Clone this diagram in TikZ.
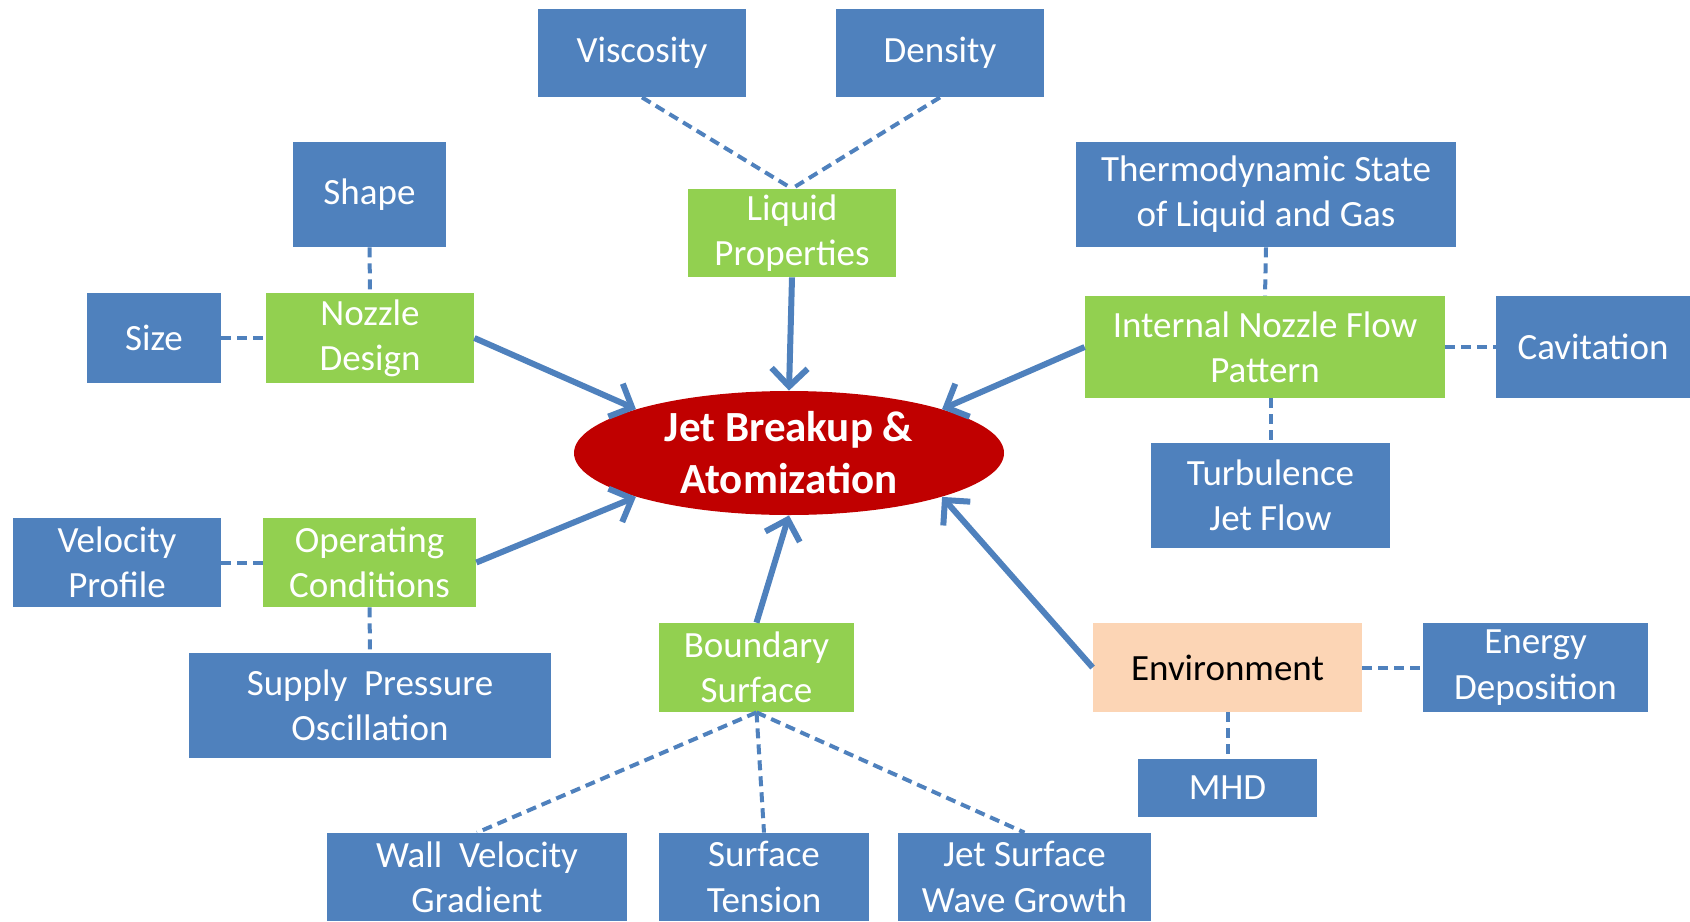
\documentclass[tikz,border=0pt]{standalone}
\usepackage{fontspec}
\setmainfont{Carlito}
\usepackage{xcolor}
\usepackage{tikz}
\usetikzlibrary{shapes.geometric,arrows.meta}

\definecolor{boxblue}{HTML}{4F81BD}
\definecolor{boxgreen}{HTML}{92D050}
\definecolor{boxpeach}{HTML}{FCD5B5}
\definecolor{jetred}{HTML}{C00000}

\begin{document}
\begin{tikzpicture}[
  x=0.5pt, y=-0.5pt,
  every node/.style={rectangle, inner sep=0pt, align=center,
    font=\fontsize{18.5}{22.6}\selectfont},
  factor/.style={fill=boxblue, text=white},
  group/.style={fill=boxgreen, text=white},
  env/.style={fill=boxpeach, text=black},
  link/.style={boxblue, line width=2pt, dash pattern=on 5pt off 3pt},
  push/.style={boxblue, line width=3pt,
    -{Straight Barb[length=9pt, width=18pt, line width=3pt]}}
]
  \clip (0,0) rectangle (1690,921);
  \node[ellipse, fill=jetred, text=white, minimum width=215pt, minimum height=62pt,
    font=\bfseries\fontsize{21.5}{26}\selectfont] (jet) at (789,453) {Jet Breakup \&\\Atomization};

  \node[group, minimum width=104pt, minimum height=44pt] (liquid) at (792,233) {Liquid\\Properties};
  \node[factor, minimum width=104pt, minimum height=44pt] (visc) at (642,53) {Viscosity};
  \node[factor, minimum width=104pt, minimum height=44pt] (dens) at (940,53) {Density};

  \node[group, minimum width=104pt, minimum height=45pt] (nozzle) at (370,338) {Nozzle\\Design};
  \node[factor, minimum width=76.5pt, minimum height=52.5pt] (shape) at (369.5,194.5) {Shape};
  \node[factor, minimum width=67pt, minimum height=45pt] (size) at (154,338) {Size};

  \node[group, minimum width=180pt, minimum height=51pt] (internal) at (1265,347) {Internal Nozzle Flow\\Pattern};
  \node[factor, minimum width=190pt, minimum height=52.5pt] (thermo) at (1266,194.5) {Thermodynamic State\\of Liquid and Gas};
  \node[factor, minimum width=97pt, minimum height=51pt] (cavit) at (1593,347) {Cavitation};
  \node[factor, minimum width=119.5pt, minimum height=52.5pt] (turb) at (1270.5,495.5) {Turbulence\\Jet Flow};

  \node[group, minimum width=106.5pt, minimum height=44.5pt] (operating) at (369.5,562.5) {Operating\\Conditions};
  \node[factor, minimum width=104pt, minimum height=44.5pt] (velprof) at (117,562.5) {Velocity\\Profile};
  \node[factor, minimum width=181pt, minimum height=52.5pt] (supply) at (370,705.5) {Supply\ \ Pressure\\Oscillation};

  \node[group, minimum width=97.5pt, minimum height=44.5pt] (boundary) at (756.5,667.5) {Boundary\\Surface};
  \node[factor, minimum width=150pt, minimum height=44pt] (wall) at (477,877) {Wall\ \ Velocity\\Gradient};
  \node[factor, minimum width=105pt, minimum height=44pt] (surftens) at (764,877) {Surface\\Tension};
  \node[factor, minimum width=126.5pt, minimum height=44pt] (jetsurf) at (1024.5,877) {Jet Surface\\Wave Growth};

  \node[env, minimum width=134.5pt, minimum height=44.5pt] (environ) at (1227.5,667.5) {Environment};
  \node[factor, minimum width=112.5pt, minimum height=44.5pt] (energy) at (1535.5,667.5) {Energy\\Deposition};
  \node[factor, minimum width=89.5pt, minimum height=29pt] (mhd) at (1227.5,788) {MHD};

  \draw[link] (visc.south) -- (liquid.north);
  \draw[link] (dens.south) -- (liquid.north);
  \draw[link] (shape.south) -- (nozzle.north);
  \draw[link] (size.east) -- (nozzle.west);
  \draw[link] (thermo.south) -- (internal.north);
  \draw[link] (internal.east) -- (cavit.west);
  \draw[link] (turb.north |- internal.south) -- (turb.north);
  \draw[link] (velprof.east) -- (operating.west);
  \draw[link] (operating.south) -- (supply.north);
  \draw[link] (boundary.south) -- (wall.north);
  \draw[link] (boundary.south) -- (surftens.north);
  \draw[link] (boundary.south) -- (jetsurf.north);
  \draw[link] (environ.east) -- (energy.west);
  \draw[link] (environ.south) -- (mhd.north);

  \draw[push] (nozzle.east) -- (jet.164);
  \draw[push] (liquid.south) -- (jet.north);
  \draw[push] (internal.west) -- (jet.16);
  \draw[push] (operating.east) -- (jet.196);
  \draw[push] (boundary.north) -- (jet.south);
  \draw[push] (environ.west) -- (jet.-16);
\end{tikzpicture}
\end{document}
